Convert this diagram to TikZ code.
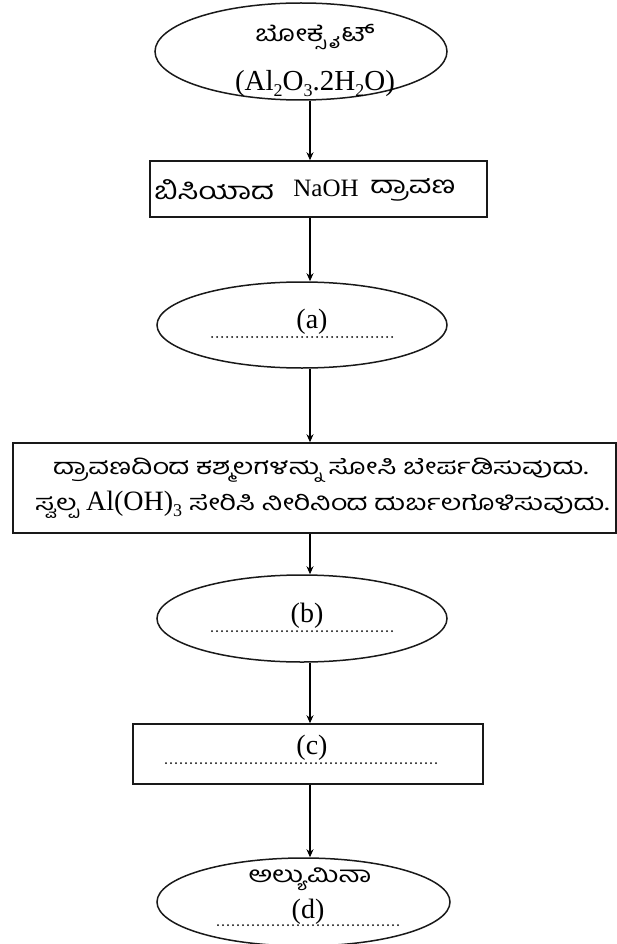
\documentclass[tikz,border=0pt]{standalone}
\usepackage{fontspec}
\setmainfont{Liberation Serif}
\newfontfamily\kn[Script=Kannada,FakeStretch=1.3]{Hind Mysuru}
\usetikzlibrary{shapes.geometric,arrows.meta}
\newcommand\sbs[1]{\raisebox{-0.45ex}{\fontsize{18}{18}\selectfont #1}}
\begin{document}
\begin{tikzpicture}[x=1pt,y=-1pt,
  shp/.style={draw=black!90,line width=1.5pt},
  ell/.style={shp,ellipse,inner sep=0pt},
  boxn/.style={shp,rectangle,inner sep=0pt},
  lat/.style={font=\fontsize{25}{27}\selectfont,inner sep=0pt},
  big/.style={font=\fontsize{28}{30}\selectfont,inner sep=0pt},
  knt/.style={font=\kn\fontsize{22.5}{26}\selectfont,inner sep=0pt},
  kn4/.style={font=\kn\fontsize{22}{25}\selectfont,inner sep=0pt},
  kn2/.style={font=\kn\fontsize{24}{27}\selectfont,inner sep=0pt},
  dotl/.style={line width=2pt,line cap=round,dash pattern=on 0pt off 5pt},
  arr/.style={line width=1.5pt,-{Stealth[length=8pt,width=7pt]}}]
\useasboundingbox (0,0) rectangle (617,944);
\coordinate (ax) at (310,0);
% shapes
\node[ell,minimum width=292pt,minimum height=97pt] (e1) at (301,51.5) {};
\node[boxn,minimum width=337pt,minimum height=56pt] (b2) at (318.5,189) {};
\node[ell,minimum width=290pt,minimum height=86pt] (ea) at (302,325) {};
\node[boxn,minimum width=603pt,minimum height=90pt] (b4) at (314.5,488) {};
\node[ell,minimum width=290pt,minimum height=87pt] (eb) at (302,618.5) {};
\node[boxn,minimum width=350pt,minimum height=60pt] (bc) at (308,754) {};
\node[ell,minimum width=293pt,minimum height=88pt] (ed) at (303.5,902) {};
% texts
\node[knt] (t1) at (315,37) {ಬೋಕ್ಸೈಟ್};
\node[big,font=\fontsize{29}{31}\selectfont] (t1b) at (315,84) {(Al\sbs{2}O\sbs{3}.2H\sbs{2}O)};
\node[kn2] (t2a) at (214,190) {ಬಿಸಿಯಾದ};
\node[lat] (t2b) at (326,188) {NaOH};
\node[kn2] (t2c) at (413,190) {ದ್ರಾವಣ};
\node[big] (ta) at (312,322) {(a)};
\draw[dotl] (212,337) -- (394,337);
\node[kn4,anchor=west] (t4a) at (53,470) {ದ್ರಾವಣದಿಂದ ಕಶ್ಮಲಗಳನ್ನು ಸೋಸಿ ಬೇರ್ಪಡಿಸುವುದು.};
\node[kn4,anchor=west] (t4b) at (35,505) {ಸ್ವಲ್ಪ {\fontsize{28}{30}\selectfont\rmfamily Al(OH)\sbs{3}} ಸೇರಿಸಿ ನೀರಿನಿಂದ ದುರ್ಬಲಗೊಳಿಸುವುದು.};
\node[big] (tb) at (307,616) {(b)};
\draw[dotl] (212,631) -- (394,631);
\node[big] (tc) at (312,748) {(c)};
\draw[dotl] (166,763) -- (438,763);
\node[knt] (td1) at (310,879) {ಅಲ್ಯುಮಿನಾ};
\node[big] (td) at (308,912) {(d)};
\draw[dotl] (218,925) -- (400,925);
% arrows
\draw[arr] (e1.south -| ax) -- (b2.north -| ax);
\draw[arr] (b2.south -| ax) -- (ea.north -| ax);
\draw[arr] (ea.south -| ax) -- (b4.north -| ax);
\draw[arr] (b4.south -| ax) -- (eb.north -| ax);
\draw[arr] (eb.south -| ax) -- (bc.north -| ax);
\draw[arr] (bc.south -| ax) -- (ed.north -| ax);
\end{tikzpicture}
\end{document}
